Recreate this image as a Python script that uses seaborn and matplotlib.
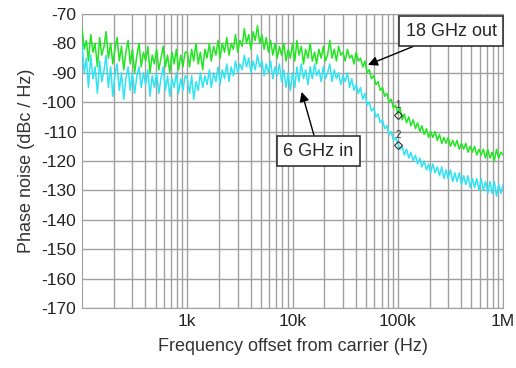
import numpy as np
import pandas as pd
import seaborn as sns
import matplotlib.pyplot as plt

# ------------ data ------------
freq_hz = [100, 105, 110, 115, 121, 127, 133, 140, 147, 154, 162, 169, 178, 187, 196, 205, 215, 226, 237, 249, 261, 274, 287, 301,
           316, 332, 348, 365, 383, 402, 422, 442, 464, 487, 511, 536, 562, 590, 619, 649, 681, 715, 750, 787, 825, 866, 909, 953,
           1000, 1050, 1100, 1150, 1210, 1270, 1330, 1400, 1470, 1540, 1620, 1690, 1780, 1870, 1960, 2050, 2150, 2260, 2370, 2490, 2610, 2740, 2870, 3010,
           3160, 3320, 3480, 3650, 3830, 4020, 4220, 4420, 4640, 4870, 5110, 5360, 5620, 5900, 6190, 6490, 6810, 7150, 7500, 7870, 8250, 8660, 9090, 9530,
           10000, 10500, 11000, 11500, 12100, 12700, 13300, 14000, 14700, 15400, 16200, 16900, 17800, 18700, 19600, 20500, 21500, 22600, 23700, 24900, 26100, 27400, 28700, 30100,
           31600, 33200, 34800, 36500, 38300, 40200, 42200, 44200, 46400, 48700, 51100, 53600, 56200, 59000, 61900, 64900, 68100, 71500, 75000, 78700, 82500, 86600, 90900, 95300,
           100000, 105000, 110000, 115000, 121000, 127000, 133000, 140000, 147000, 154000, 162000, 169000, 178000, 187000, 196000, 205000, 215000, 226000, 237000, 249000, 261000, 274000, 287000, 301000,
           316000, 332000, 348000, 365000, 383000, 402000, 422000, 442000, 464000, 487000, 511000, 536000, 562000, 590000, 619000, 649000, 681000, 715000, 750000, 787000, 825000, 866000, 909000, 953000,
           1000000]

out_18ghz = [-75, -82, -79, -86, -77, -83, -80, -88, -78, -84, -81, -76, -85, -80, -87, -82, -78, -86, -81, -89, -83, -79, -87, -82,
             -90, -84, -80, -88, -83, -86, -81, -90, -84, -87, -82, -89, -85, -81, -88, -84, -90, -83, -87, -82, -89, -84, -88, -83,
             -83, -88, -82, -86, -80, -87, -83, -89, -82, -85, -80, -86, -81, -84, -79, -85, -80, -83, -78, -84, -80, -82, -77, -83,
             -79, -81, -75, -80, -77, -82, -76, -79, -74, -80, -77, -82, -78, -83, -79, -84, -80, -85, -81, -84, -80, -86, -82, -85,
             -80, -86, -79, -84, -81, -87, -82, -85, -80, -86, -83, -87, -82, -85, -81, -86, -84, -79, -85, -82, -86, -81, -84, -83,
             -86, -82, -85, -84, -87, -83, -86, -85, -88, -86, -90, -89, -92, -91, -94, -93, -96, -95, -98, -97, -100, -99, -102, -101,
             -104, -102, -106, -104, -107, -105, -108, -106, -109, -107, -110, -108, -111, -109, -112, -110, -112, -110, -113, -111, -114, -112, -114, -112,
             -115, -113, -115, -113, -116, -114, -116, -114, -117, -115, -117, -115, -118, -116, -118, -116, -119, -116, -119, -117, -120, -116, -119, -117,
             -118]

in_6ghz = [-80, -90, -85, -95, -84, -92, -88, -97, -86, -93, -89, -84, -95, -88, -98, -91, -87, -96, -90, -99, -92, -88, -96, -90,
           -97, -91, -88, -95, -90, -94, -89, -98, -91, -95, -90, -97, -92, -88, -96, -91, -98, -92, -95, -90, -97, -92, -96, -91,
           -92, -97, -91, -99, -93, -96, -90, -95, -91, -94, -89, -95, -90, -93, -88, -94, -89, -92, -87, -93, -88, -91, -86, -90,
           -87, -89, -84, -88, -85, -90, -86, -89, -84, -88, -86, -91, -87, -90, -86, -92, -88, -91, -87, -93, -89, -95, -90, -96,
           -90, -95, -88, -93, -87, -92, -89, -94, -88, -92, -87, -91, -89, -93, -88, -92, -90, -87, -93, -89, -92, -90, -94, -91,
           -93, -90, -95, -92, -96, -94, -97, -95, -99, -97, -101, -100, -103, -102, -105, -104, -107, -106, -109, -108, -111, -110, -113, -112,
           -114, -116, -115, -118, -116, -119, -117, -120, -118, -121, -119, -122, -120, -123, -121, -124, -121, -124, -122, -125, -122, -126, -123, -126,
           -123, -127, -124, -127, -124, -128, -125, -128, -125, -129, -126, -129, -126, -130, -126, -130, -127, -131, -127, -131, -127, -132, -128, -131,
           -128]

y_ticks = list(range(-170, -69, 10))
x_ticks = [1e3, 1e4, 1e5, 1e6]
x_labels = ["1k", "10k", "100k", "1M"]

df = pd.DataFrame({"freq": freq_hz * 2,
                   "pn": out_18ghz + in_6ghz,
                   "trace": ["18 GHz out"] * len(freq_hz) + ["6 GHz in"] * len(freq_hz)})

# ------------ plot ------------
sns.set_style("white")
plt.rcParams['font.family'] = ['Liberation Sans', 'DejaVu Sans']
plt.rcParams['axes.unicode_minus'] = False

fig = plt.figure(figsize=(5.16, 3.68), dpi=100)
ax = fig.add_axes([0.159, 0.163, 0.816, 0.799])

sns.lineplot(data=df, x="freq", y="pn", hue="trace",
             palette={"18 GHz out": "#22e622", "6 GHz in": "#30e4f2"},
             linewidth=1.1, legend=False, ax=ax, zorder=3)

ax.set_xscale("log")
ax.set_xlim(100, 1e6)
ax.set_ylim(-170, -70)
ax.set_yticks(y_ticks)
ax.set_xticks(x_ticks)
ax.set_xticklabels(x_labels)
ax.grid(True, which="both", color="#a0a0a0", linewidth=1.0, zorder=0)
ax.tick_params(axis="both", labelsize=12.5, length=0, pad=4, colors="#222222")
ax.tick_params(axis="x", which="minor", length=0)
for s in ax.spines.values():
    s.set_color("#a0a0a0")

ax.set_xlabel("Frequency offset from carrier (Hz)", fontsize=13, color="#333333", labelpad=7)
ax.set_ylabel("Phase noise (dBc / Hz)", fontsize=13, color="#333333", labelpad=5)

box = dict(boxstyle="square,pad=0.35", fc="white", ec="#333333", lw=1.2)
arrow = dict(arrowstyle="-|>", color="black", lw=1.0, mutation_scale=14, shrinkA=0, shrinkB=0)
ax.annotate("18 GHz out", xy=(52000, -87.3), xytext=(320000, -75.8), fontsize=13,
            ha="center", va="center", bbox=box, arrowprops=arrow, zorder=5)
ax.annotate("6 GHz in", xy=(12200, -96.5), xytext=(17600, -116.6), fontsize=13,
            ha="center", va="center", bbox=box, arrowprops=arrow, zorder=5)

# marker points 1 and 2 at 100 kHz
ax.plot([1e5, 1e5], [-104.5, -114.5], "D", mfc="none", mec="#333333", ms=4.5, mew=0.8, zorder=4)
ax.text(1e5, -101, "1", fontsize=7, ha="center", va="center", color="#333333", zorder=4)
ax.text(1e5, -111, "2", fontsize=7, ha="center", va="center", color="#333333", zorder=4)

fig.savefig("out.png", dpi=100)
